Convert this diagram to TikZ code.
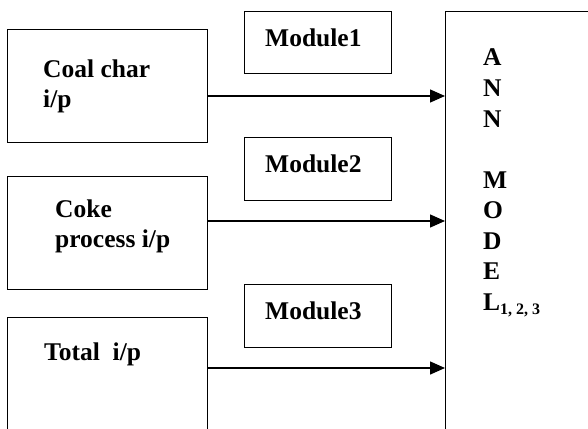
\documentclass[tikz,border=0pt]{standalone}
\usepackage{fontspec}
\setmainfont{Liberation Serif}
\usetikzlibrary{arrows.meta}
\begin{document}
\begin{tikzpicture}[x=1pt,y=-1pt,
  box/.style={draw, line width=1.4pt, inner sep=0pt, anchor=north west},
  lbl/.style={anchor=base west, inner sep=0pt, font=\fontsize{25.5}{30}\selectfont\bfseries},
  arr/.style={line width=1.4pt, -{Triangle[length=15pt,width=13pt]}}]
\useasboundingbox (0,0) rectangle (588,428);
\clip (0,0) rectangle (588,428);
% boxes
\node[box, minimum width=200pt, minimum height=113pt] (b1) at (7,29) {};
\node[box, minimum width=200pt, minimum height=113pt] (b2) at (7,176) {};
\node[box, minimum width=200pt, minimum height=140pt] (b3) at (7,317) {};
\node[box, minimum width=147pt, minimum height=62pt] (m1) at (244,11) {};
\node[box, minimum width=147pt, minimum height=63pt] (m2) at (244,137) {};
\node[box, minimum width=147pt, minimum height=63pt] (m3) at (244,284) {};
\node[box, minimum width=200pt, minimum height=440pt] (ann) at (445,11) {};
% texts
\node[lbl] (t1a) at (43,77) {Coal char};
\node[lbl] (t1b) at (43,107) {i/p};
\node[lbl] (t2a) at (55,217) {Coke};
\node[lbl] (t2b) at (55,247) {process i/p};
\node[lbl] (t3) at (44,360) {Total\ \ i/p};
\node[lbl] (tm1) at (265,46) {Module1};
\node[lbl] (tm2) at (265,172) {Module2};
\node[lbl] (tm3) at (265,319) {Module3};
\node[lbl] (la) at (483,66) {A};
\node[lbl] (ln1) at (483,96.5) {N};
\node[lbl] (ln2) at (483,127) {N};
\node[lbl] (lm) at (483,188) {M};
\node[lbl] (lo) at (483,218.5) {O};
\node[lbl] (ld) at (483,249) {D};
\node[lbl] (le) at (483,279.5) {E};
\node[lbl] (ll) at (483,310) {L\raisebox{-4pt}{\fontsize{16}{16}\selectfont 1, 2, 3}};
% arrows
\coordinate (y1) at (0,96);
\coordinate (y2) at (0,221);
\coordinate (y3) at (0,368);
\draw[arr] (b1.east |- y1) -- (ann.west |- y1);
\draw[arr] (b2.east |- y2) -- (ann.west |- y2);
\draw[arr] (b3.east |- y3) -- (ann.west |- y3);
\end{tikzpicture}
\end{document}
